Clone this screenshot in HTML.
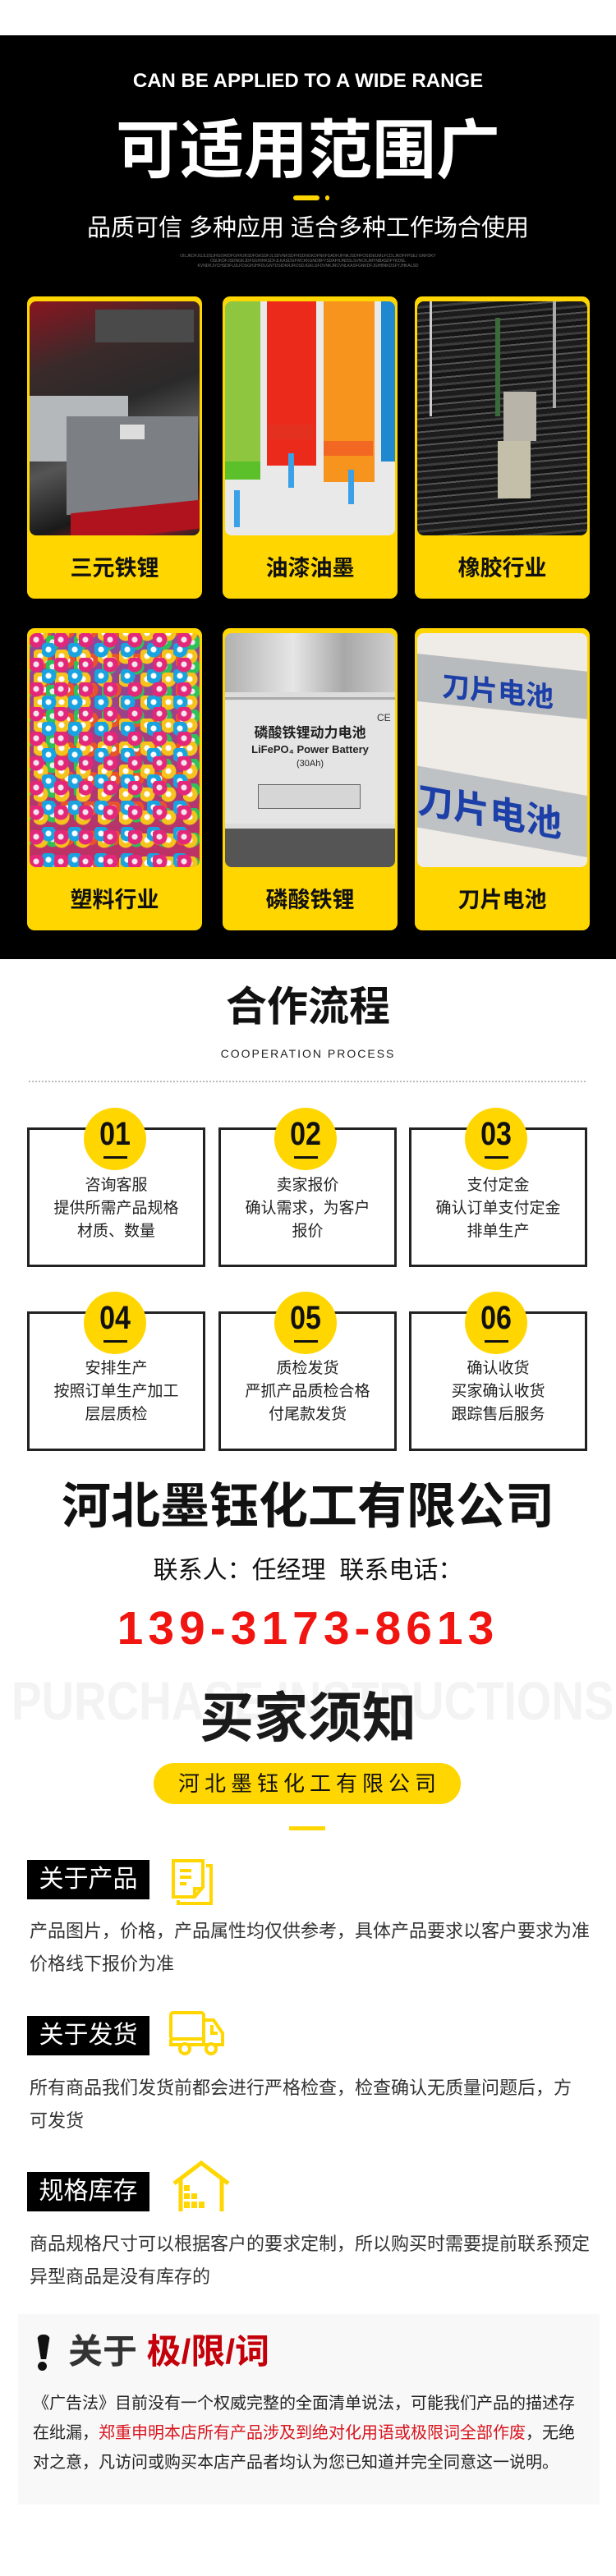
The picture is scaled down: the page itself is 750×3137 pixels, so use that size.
<!DOCTYPE html>
<html><head><meta charset="utf-8">
<style>
*{margin:0;padding:0;box-sizing:border-box}
body{width:750px;height:3137px;position:relative;background:#fff;font-family:"Liberation Sans","Noto Sans CJK SC",sans-serif;overflow:hidden}
.a{position:absolute}
.c{text-align:center;white-space:nowrap}
.card{position:absolute;width:213px;height:368px;background:#ffd600;border-radius:9px}
.img{position:absolute;left:3px;top:6px;width:207px;height:285px;border-radius:8px;overflow:hidden}
.lab{position:absolute;left:0;right:0;top:311px;text-align:center;font-size:27px;font-weight:bold;color:#111;line-height:40px}
.box{position:absolute;width:217px;height:170px;border:3px solid #222;background:#fff}
.circ{position:absolute;width:76px;height:76px;border-radius:50%;background:#ffd600}
.num{position:absolute;left:0;right:0;top:10px;text-align:center;font-size:40px;font-weight:bold;color:#111;transform:scaleX(.85);line-height:44px}
.ul{position:absolute;left:24px;top:59px;width:29px;height:3px;background:#111}
.bt{position:absolute;left:0;right:0;text-align:center;font-size:19px;color:#222;line-height:28px}
.tag{position:absolute;left:33px;width:149px;height:48px;background:#000;color:#fff;font-size:30px;line-height:48px;text-align:center}
.p{position:absolute;left:36px;width:700px;font-size:22px;color:#333;line-height:40px}
</style></head><body>
<div class="a" style="left:0;top:43px;width:750px;height:1125px;background:#000"></div>
<div class="a c" style="left:0;width:750px;top:84px;font-size:24px;font-weight:bold;color:#fff;line-height:30px">CAN BE APPLIED TO A WIDE RANGE</div>
<div class="a c" style="left:0;width:750px;top:138px;font-size:78px;font-weight:bold;color:#fff;line-height:90px">可适用范围广</div>
<div class="a" style="left:357px;top:238px;width:32px;height:6px;border-radius:3px;background:#ffd600"></div>
<div class="a" style="left:396px;top:238px;width:5px;height:6px;border-radius:3px;background:#ffd600"></div>
<div class="a c" style="left:0;width:750px;top:260px;font-size:29px;color:#fff;line-height:36px">品质可信 多种应用 适合多种工作场合使用</div>
<div class="a c" style="left:0;width:750px;top:309px;font-size:5px;color:#777;line-height:6px">OILJKDFJGJLDSJHGORIDFGHHJKSDFGKSDFJLSDVNKSDFHSDNGKDFNKFSADHJFNKJSDHFOSIDEUMLFCDLJKDFFPSEJ GNFDKY<br>OSIJKDFJSDNGKJDFSGHIHKSDFJLKASDGFWCKKGNDBFYSDAFHJNDSLSVNCKJMYNBASDFYKDSL<br>KVNDKJVCHSDIFUJLFDSGHJHFDLGNTDSIDKRJROSDJGKLSFDVNKJRCVNLKASFGNKDFJGHBNKDSFYJHKALSD</div>

<div class="card" style="left:33px;top:361px">
 <div class="img" style="background:linear-gradient(160deg,#8a1520 0%,#3a2a2a 25%,#2a2a2a 45%,#555 60%,#1a1a1a 80%,#a01822 92%,#222 100%)">
  <div class="a" style="left:0;top:115px;width:120px;height:80px;background:#b5b8bb"></div>
  <div class="a" style="left:45px;top:140px;width:160px;height:120px;background:#7c8084"></div>
  <div class="a" style="left:110px;top:150px;width:30px;height:18px;background:#ddd"></div>
  <div class="a" style="left:50px;top:250px;width:157px;height:35px;background:#b0121e;transform:skewY(-6deg)"></div>
  <div class="a" style="left:80px;top:10px;width:120px;height:40px;background:#4a4a4a"></div>
 </div>
 <div class="lab">三元铁锂</div>
</div>
<div class="card" style="left:271px;top:361px">
 <div class="img" style="background:#e9e9e9">
  <div class="a" style="left:0;top:0;width:43px;height:200px;background:#8ec63f"></div>
  <div class="a" style="left:0;top:195px;width:43px;height:22px;background:#5bc02a"></div>
  <div class="a" style="left:51px;top:0;width:60px;height:200px;background:#ec2a1c"></div>
  <div class="a" style="left:51px;top:150px;width:56px;height:18px;background:#e3301f"></div>
  <div class="a" style="left:120px;top:0;width:62px;height:220px;background:#f7941d"></div>
  <div class="a" style="left:120px;top:170px;width:60px;height:18px;background:#f26722"></div>
  <div class="a" style="left:190px;top:0;width:17px;height:195px;background:#1e88d0"></div>
  <div class="a" style="left:77px;top:185px;width:7px;height:42px;background:#3aa0e8"></div>
  <div class="a" style="left:150px;top:205px;width:7px;height:42px;background:#3aa0e8"></div>
  <div class="a" style="left:11px;top:230px;width:7px;height:45px;background:#3aa0e8"></div>
 </div>
 <div class="lab">油漆油墨</div>
</div>
<div class="card" style="left:505px;top:361px">
 <div class="img" style="background:repeating-linear-gradient(175deg,#1c1c1c 0 6px,#3d3d3d 6px 9px,#151515 9px 14px,#555 14px 16px)">
  <div class="a" style="left:15px;top:0;width:3px;height:140px;background:#ccc"></div>
  <div class="a" style="left:95px;top:20px;width:6px;height:120px;background:#3a6a3a"></div>
  <div class="a" style="left:165px;top:0;width:4px;height:130px;background:#aaa"></div>
  <div class="a" style="left:105px;top:110px;width:40px;height:60px;background:#b8b4aa"></div>
  <div class="a" style="left:98px;top:170px;width:40px;height:70px;background:#c4bfa8"></div>
 </div>
 <div class="lab">橡胶行业</div>
</div>
<div class="card" style="left:33px;top:765px">
 <div class="img" style="background:
  radial-gradient(circle at 8px 8px,#f0e8f0 3px,#e3287a 4px,#e3287a 9px,transparent 10px) 0 0/30px 30px,
  radial-gradient(circle at 8px 8px,#fff 3px,#19a3e0 4px,#19a3e0 9px,transparent 10px) 15px 12px/32px 32px,
  radial-gradient(circle at 8px 8px,#fff 3px,#f6c21c 4px,#f6c21c 9px,transparent 10px) 5px 20px/26px 28px,
  radial-gradient(circle at 8px 8px,#eee 3px,#2fbf5b 4px,#2fbf5b 9px,transparent 10px) 20px 3px/34px 30px,
  radial-gradient(circle at 8px 8px,#fff 3px,#e8542a 4px,#e8542a 9px,transparent 10px) 10px 25px/28px 36px,
  linear-gradient(#8a4a9c,#c03060)"></div>
 <div class="lab">塑料行业</div>
</div>
<div class="card" style="left:271px;top:765px">
 <div class="img" style="background:#dcdcdc">
  <div class="a" style="left:0;top:0;width:207px;height:72px;background:linear-gradient(90deg,#b0b0b0,#e6e6e6 40%,#a8a8a8 70%,#cfcfcf)"></div>
  <div class="a" style="left:0;top:78px;width:207px;height:3px;background:#aaa"></div>
  <div class="a" style="left:0;top:82px;width:207px;height:150px;background:#e4e4e4"></div>
  <div class="a" style="left:185px;top:96px;font-size:12px;color:#333">CE</div>
  <div class="a c" style="left:0;width:207px;top:112px;font-size:17px;font-weight:bold;color:#222;line-height:20px">磷酸铁锂动力电池</div>
  <div class="a c" style="left:0;width:207px;top:134px;font-size:13px;font-weight:bold;color:#222;line-height:16px">LiFePO₄ Power Battery</div>
  <div class="a c" style="left:0;width:207px;top:152px;font-size:11px;color:#222;line-height:14px">(30Ah)</div>
  <div class="a" style="left:40px;top:184px;width:125px;height:30px;border:1px solid #666;background:#d6d6d6"></div>
  <div class="a" style="left:0;top:238px;width:207px;height:47px;background:#555"></div>
 </div>
 <div class="lab">磷酸铁锂</div>
</div>
<div class="card" style="left:505px;top:765px">
 <div class="img" style="background:#efebe6">
  <div class="a" style="left:0;top:36px;width:210px;height:58px;background:#b8bbbe;transform:skewY(6deg)"></div>
  <div class="a" style="left:30px;top:52px;font-size:34px;font-weight:bold;color:#1d3fa8;line-height:40px;transform:skewY(6deg)">刀片电池</div>
  <div class="a" style="left:0;top:180px;width:210px;height:75px;background:#bfc2c5;transform:skewY(10deg)"></div>
  <div class="a" style="left:0;top:195px;font-size:44px;font-weight:bold;color:#1d3fa8;line-height:48px;transform:skewY(10deg)">刀片电池</div>
 </div>
 <div class="lab">刀片电池</div>
</div>

<div class="a c" style="left:0;width:750px;top:1196px;font-size:50px;font-weight:bold;color:#111;line-height:60px">合作流程</div>
<div class="a c" style="left:0;width:750px;top:1275px;font-size:14px;color:#222;letter-spacing:2px;line-height:16px">COOPERATION PROCESS</div>
<div class="a" style="left:35px;top:1316px;width:678px;border-top:2px dotted #bbb"></div>

<div class="box" style="left:33px;top:1373px"></div>
<div class="box" style="left:266px;top:1373px"></div>
<div class="box" style="left:498px;top:1373px"></div>
<div class="box" style="left:33px;top:1597px"></div>
<div class="box" style="left:266px;top:1597px"></div>
<div class="box" style="left:498px;top:1597px"></div>

<div class="circ" style="left:102px;top:1349px"><div class="num">01</div><div class="ul"></div></div>
<div class="circ" style="left:334px;top:1349px"><div class="num">02</div><div class="ul"></div></div>
<div class="circ" style="left:566px;top:1349px"><div class="num">03</div><div class="ul"></div></div>
<div class="circ" style="left:102px;top:1573px"><div class="num">04</div><div class="ul"></div></div>
<div class="circ" style="left:334px;top:1573px"><div class="num">05</div><div class="ul"></div></div>
<div class="circ" style="left:566px;top:1573px"><div class="num">06</div><div class="ul"></div></div>

<div class="bt" style="left:33px;width:217px;top:1430px">咨询客服<br>提供所需产品规格<br>材质、数量</div>
<div class="bt" style="left:266px;width:217px;top:1430px">卖家报价<br>确认需求，为客户<br>报价</div>
<div class="bt" style="left:498px;width:217px;top:1430px">支付定金<br>确认订单支付定金<br>排单生产</div>
<div class="bt" style="left:33px;width:217px;top:1653px">安排生产<br>按照订单生产加工<br>层层质检</div>
<div class="bt" style="left:266px;width:217px;top:1653px">质检发货<br>严抓产品质检合格<br>付尾款发货</div>
<div class="bt" style="left:498px;width:217px;top:1653px">确认收货<br>买家确认收货<br>跟踪售后服务</div>

<div class="a c" style="left:0;width:750px;top:1800px;font-size:60px;font-weight:bold;color:#111;line-height:70px">河北墨钰化工有限公司</div>
<div class="a c" style="left:0;width:750px;top:1894px;font-size:30px;color:#111;line-height:38px">联系人：任经理&nbsp; 联系电话：</div>
<div class="a c" style="left:0;width:750px;top:1950px;font-size:57px;font-weight:bold;color:#f01510;letter-spacing:6px;line-height:66px">139-3173-8613</div>

<div class="a" style="left:14px;top:2035px;font-size:66px;font-weight:bold;color:#f3f3f3;line-height:72px;white-space:nowrap;transform:scaleX(.83);transform-origin:0 0">PURCHASE INSTRUCTIONS</div>
<div class="a c" style="left:0;width:750px;top:2054px;font-size:66px;font-weight:bold;color:#1a1a1a;line-height:76px">买家须知</div>
<div class="a c" style="left:187px;width:374px;top:2147px;height:50px;border-radius:25px;background:#ffd600;font-size:26px;color:#111;letter-spacing:6px;line-height:50px;padding-left:6px">河北墨钰化工有限公司</div>
<div class="a" style="left:352px;top:2224px;width:44px;height:5px;background:#ffd600"></div>

<div class="tag" style="top:2265px">关于产品</div>
<svg class="a" style="left:205px;top:2262px" width="60" height="60" viewBox="0 0 60 60" fill="none" stroke="#ffd600" stroke-width="4">
 <path d="M6 4 H42 V36 L32 48 H6 Z"/><path d="M46 10 H52 V56 H12 V52"/>
 <path d="M14 16 H28 M14 24 H28 M14 32 H22" /><path d="M32 48 V38 H42"/></svg>
<div class="p" style="top:2332px">产品图片，价格，产品属性均仅供参考，具体产品要求以客户要求为准<br>价格线下报价为准</div>

<div class="tag" style="top:2455px">关于发货</div>
<svg class="a" style="left:205px;top:2448px" width="70" height="58" viewBox="0 0 70 58" fill="none" stroke="#ffd600" stroke-width="4">
 <rect x="3" y="3" width="40" height="32" rx="3"/><path d="M43 12 H55 L66 28 V42 H43 Z"/><path d="M53 18 V28 H60"/>
 <path d="M3 35 V42 H66"/><circle cx="20" cy="47" r="6" fill="#fff"/><circle cx="52" cy="47" r="6" fill="#fff"/></svg>
<div class="p" style="top:2523px">所有商品我们发货前都会进行严格检查，检查确认无质量问题后，方<br>可发货</div>

<div class="tag" style="top:2645px">规格库存</div>
<svg class="a" style="left:208px;top:2631px" width="74" height="64" viewBox="0 0 74 64" fill="none" stroke="#ffd600" stroke-width="5">
 <path d="M4 28 L37 3 L70 28"/><path d="M12 22 V62 M62 22 V62"/>
 <g fill="#ffd600" stroke="none"><rect x="16" y="30" width="7" height="7"/><rect x="16" y="40" width="7" height="7"/><rect x="25" y="40" width="7" height="7"/><rect x="16" y="50" width="7" height="8"/><rect x="25" y="50" width="7" height="8"/><rect x="34" y="50" width="7" height="8"/></g></svg>
<div class="p" style="top:2713px">商品规格尺寸可以根据客户的要求定制，所以购买时需要提前联系预定<br>异型商品是没有库存的</div>

<div class="a" style="left:22px;top:2818px;width:708px;height:232px;background:#f8f8f8"></div>
<div class="a" style="left:45px;top:2843px;width:16px;height:30px;background:#111;border-radius:7px 7px 4px 4px;clip-path:polygon(0 0,100% 0,70% 100%,30% 100%)"></div>
<div class="a" style="left:46px;top:2876px;width:11px;height:11px;border-radius:50%;background:#111"></div>
<div class="a" style="left:83px;top:2841px;font-size:42px;font-weight:bold;color:#333;line-height:46px;white-space:nowrap">关于 <span style="color:#c4000a">极/限/词</span></div>
<div class="a" style="left:40px;top:2909px;width:680px;font-size:20px;color:#222;line-height:36px">《广告法》目前没有一个权威完整的全面清单说法，可能我们产品的描述存<br>在纰漏，<span style="color:#d9141e">郑重申明本店所有产品涉及到绝对化用语或极限词全部作废</span>，无绝<br>对之意，凡访问或购买本店产品者均认为您已知道并完全同意这一说明。</div>
</body></html>
